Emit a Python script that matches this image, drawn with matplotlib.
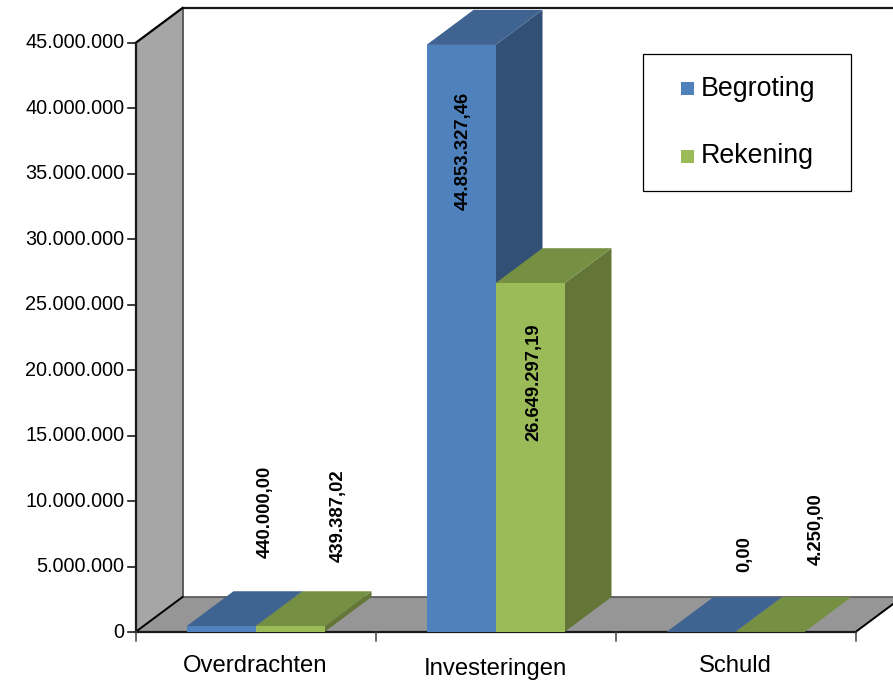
import matplotlib
matplotlib.use("Agg")
import matplotlib.pyplot as plt
from matplotlib.patches import Polygon, Rectangle

categories = ["Overdrachten", "Investeringen", "Schuld"]
begroting = [440000.00, 44853327.46, 0.00]
rekening = [439387.02, 26649297.19, 4250.00]
begroting_labels = ["440.000,00", "44.853.327,46", "0,00"]
rekening_labels = ["439.387,02", "26.649.297,19", "4.250,00"]
y_ticks = [0, 5000000, 10000000, 15000000, 20000000, 25000000, 30000000, 35000000, 40000000, 45000000]
y_tick_labels = ["0", "5.000.000", "10.000.000", "15.000.000", "20.000.000", "25.000.000",
                 "30.000.000", "35.000.000", "40.000.000", "45.000.000"]

W, H = 893, 687
plt.rcParams["font.family"] = ["Liberation Sans", "DejaVu Sans"]
fig = plt.figure(figsize=(W / 100, H / 100), dpi=100, facecolor="white")
ax = fig.add_axes([0, 0, 1, 1])
ax.axis("off")

# Scale: pixels per unit
X0, CW = 135.5, 240.0
Y0, PY = 632.0, 589.0 / 45000000
ax.set_xlim(-X0 / CW, (W - X0) / CW)
ax.set_ylim(-(H - Y0) / PY, Y0 / PY)
ddx, ddy = 47.0 / CW, 35.0 / PY
n = len(categories)
ymax = 45000000
BLK = "#1a1a1a"

def poly(pts, fc, ec="none", lw=0, z=1):
    ax.add_patch(Polygon(pts, closed=True, fc=fc, ec=ec, lw=lw, zorder=z, clip_on=True))

# Walls
poly([(0, 0), (ddx, ddy), (ddx, ymax + ddy), (0, ymax)], "#a6a6a6", z=1)
poly([(0, 0), (n, 0), (n + ddx, ddy), (ddx, ddy)], "#969696", z=1)
ax.plot([ddx, ddx], [ddy, ymax + ddy], color="#444444", lw=1.2, zorder=2)
ax.plot([ddx, n + ddx], [ddy, ddy], color="#555555", lw=1.2, zorder=2)
ax.plot([ddx, n + ddx], [ymax + ddy, ymax + ddy], color=BLK, lw=1.6, zorder=2)
ax.plot([0, ddx], [ymax, ymax + ddy], color="black", lw=1.6, zorder=2)
ax.plot([0, ddx], [0, ddy], color="black", lw=1.4, zorder=2)
ax.plot([0, 0], [0, ymax], color=BLK, lw=1.6, zorder=2)
ax.plot([0, n], [0, 0], color=BLK, lw=1.6, zorder=2)
ax.plot([n, n + ddx], [0, ddy], color="black", lw=1.4, zorder=2)

# Ticks
tick_dx = 8.0 / CW
for t, lab in zip(y_ticks, y_tick_labels):
    ax.plot([-tick_dx, 0], [t, t], color=BLK, lw=1.2, zorder=2)
    ax.text(-11.0 / CW, t, lab, ha="right", va="center", fontsize=14.3, color="black")
for i in range(n + 1):
    ax.plot([i, i], [0, -9.0 / PY], color="#444444", lw=1.1, zorder=2)
label_y = [-34, -37, -34]
for i, c in enumerate(categories):
    ax.text(i + 0.5, label_y[i] / PY, c, ha="center", va="center", fontsize=17.2, color="black")

# Bars
offset = 51.0 / CW
bw = 69.0 / CW
def bar3d(x, v, front, top, side, z):
    poly([(x + bw, 0), (x + bw + ddx, ddy), (x + bw + ddx, v + ddy), (x + bw, v)], side, z=z)
    poly([(x, v), (x + bw, v), (x + bw + ddx, v + ddy), (x + ddx, v + ddy)], top, z=z)
    poly([(x, 0), (x + bw, 0), (x + bw, v), (x, v)], front, z=z + 0.1)

cols = {"b": ("#4f81bd", "#3f6491", "#325076"), "r": ("#9bbb59", "#769043", "#637637")}
for i in range(n):
    x1 = i + offset
    x2 = x1 + bw
    bar3d(x1, begroting[i], *cols["b"], z=3 + i)
    bar3d(x2, rekening[i], *cols["r"], z=3.3 + i)

# Data labels (rotated)
lab_style = dict(rotation=90, ha="center", va="center", fontsize=13.3, fontweight="bold", color="black", zorder=10)
lab_pos_b = [(265, 512), (463, 151), (745, 554)]
lab_pos_r = [(338, 516), (534, 382), (816, 529)]
for i in range(n):
    ax.text((lab_pos_b[i][0] - X0) / CW, (Y0 - lab_pos_b[i][1]) / PY, begroting_labels[i], **lab_style)
    ax.text((lab_pos_r[i][0] - X0) / CW, (Y0 - lab_pos_r[i][1]) / PY, rekening_labels[i], **lab_style)

# Legend (axes fraction in figure pixels)
tr = fig.transFigure
fig.add_artist(Rectangle((643 / W, 1 - 191 / H), 208 / W, 137 / H, transform=tr, fc="white", ec="black", lw=0.9, zorder=20))
for name, color, cy in [("Begroting", "#4f81bd", 88.5), ("Rekening", "#9bbb59", 156)]:
    fig.add_artist(Rectangle((681 / W, 1 - (cy + 6.5) / H), 13 / W, 13 / H, transform=tr, fc=color, ec="none", zorder=21))
    fig.text(701 / W, 1 - cy / H, name, ha="left", va="center", fontsize=19.3, color="black", zorder=22)

fig.savefig("out.png", dpi=100)
